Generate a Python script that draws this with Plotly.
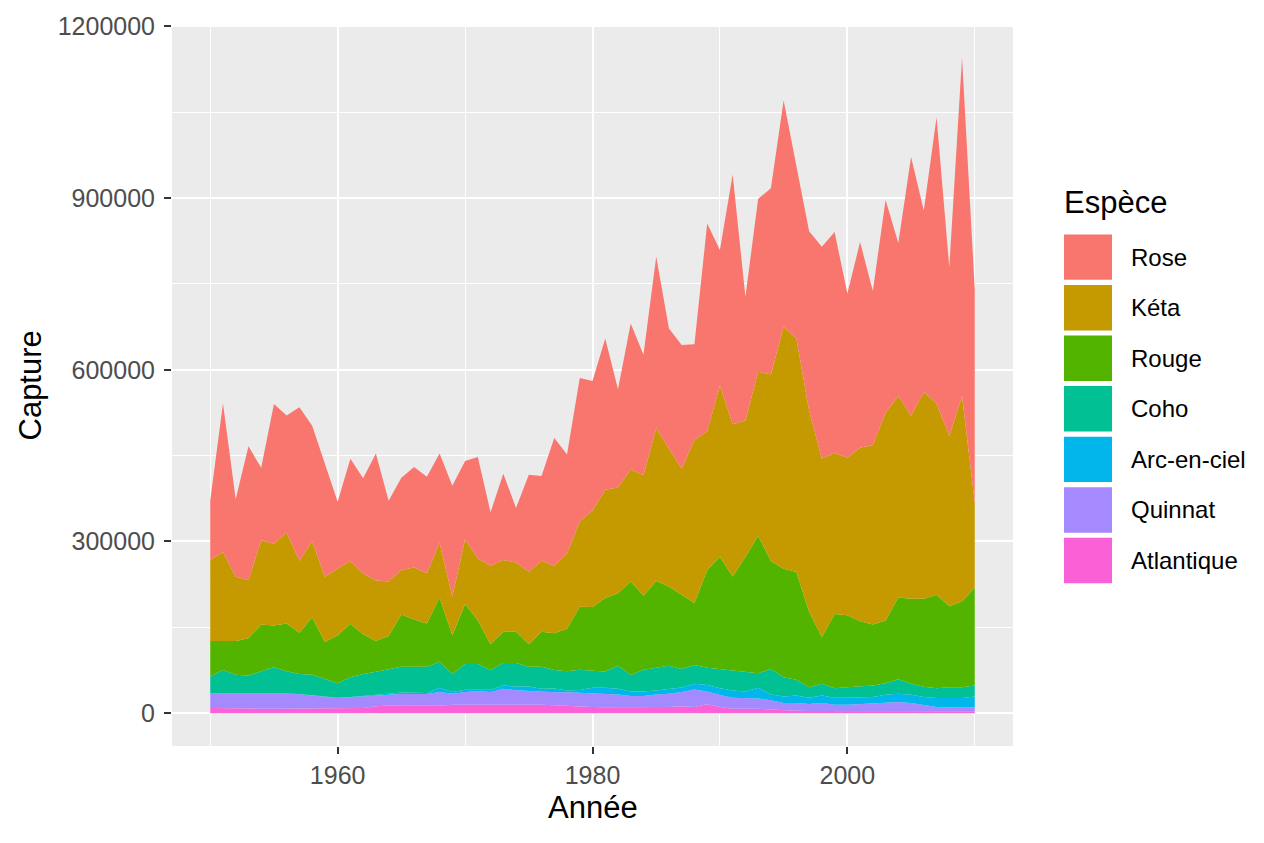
import plotly.graph_objs as go

annees = list(range(1950, 2011))

# captures par espece (bas de pile en premier)
atlantique = [9000, 8500, 8000, 8000, 8000, 8000, 8000, 8000, 8000, 8000,
              8000, 8000, 9000, 12000, 13500, 13000, 13000, 13000, 13000, 15000,
              15000, 15000, 15000, 15500, 15500, 15000, 15000, 14000, 13000, 11000,
              11000, 10500, 10500, 10000, 10500, 11000, 11000, 12000, 11000, 15600,
              11000, 8000, 8000, 8000, 6300, 5000, 4500, 4000, 4000, 4000,
              4000, 4000, 4000, 4000, 4000, 4000, 3500, 3500, 3500, 3500, 3500]
quinnat = [25000, 25500, 26000, 26000, 26500, 27000, 26000, 25000, 23100, 21400,
           18500, 20000, 20400, 19100, 19500, 20500, 20500, 20500, 23900, 19000,
           22000, 23600, 22000, 27200, 24500, 24000, 22000, 22500, 23500, 24700,
           24700, 23500, 22400, 20000, 19500, 21900, 23000, 25000, 30500, 22400,
           20800, 19100, 18500, 17900, 16200, 12800, 13300, 12100, 13800, 11000,
           11000, 12100, 13800, 15600, 15600, 13800, 11500, 7500, 6300, 6300, 6300]
arc_en_ciel = [500, 500, 500, 500, 500, 500, 500, 500, 500, 500,
               500, 500, 500, 700, 1000, 2800, 2800, 2000, 7500, 2900,
               4000, 2900, 4000, 5700, 6700, 7700, 5600, 6500, 3200, 4800,
               8700, 10400, 9700, 8000, 8000, 6800, 8600, 8000, 9800, 11500,
               12000, 12600, 11500, 18500, 10400, 11600, 13300, 11000, 13300, 12100,
               12100, 11000, 10400, 12700, 14400, 14500, 13200, 15500, 16700, 16700, 19600]
coho = [29500, 41000, 32900, 31200, 38200, 44600, 38700, 35100, 35800, 30100,
        25400, 34300, 38700, 40800, 43000, 45000, 45000, 45800, 45500, 31700,
        44900, 44400, 34500, 39300, 41000, 34600, 38700, 32500, 33500, 35500,
        30000, 28600, 40400, 28900, 38000, 40400, 40400, 32300, 32900, 30000,
        33500, 35800, 35200, 25600, 44400, 33400, 27200, 18400, 20200, 16700,
        18400, 19600, 20200, 20100, 25400, 19000, 17900, 17300, 19000, 19000, 19000]
rouge = [62200, 50700, 58800, 65200, 81900, 73300, 83600, 72000, 100300, 64500,
         83600, 93400, 69200, 53600, 58000, 91100, 82400, 75500, 112400, 67400,
         104800, 76100, 45000, 54600, 54600, 39200, 61000, 64000, 74300, 110200,
         111100, 128100, 126700, 163100, 129200, 151000, 138300, 129700, 108300, 170700,
         195900, 163200, 199500, 240200, 188600, 189500, 188500, 131800, 81800, 129600,
         125600, 114100, 106700, 109500, 142900, 148700, 153900, 163200, 141200, 149800, 171200]
keta = [141300, 155600, 112400, 102000, 146900, 142800, 158400, 125700, 132600, 114100,
        117000, 109600, 106500, 105500, 95000, 77800, 91000, 87500, 95700, 68000,
        113100, 108300, 137100, 125200, 121100, 126800, 124000, 118100, 131500, 148600,
        168400, 189100, 184500, 195900, 210300, 266900, 240900, 220100, 285300, 242100,
        299500, 265900, 238700, 286400, 325900, 422700, 407800, 351100, 311500, 281400,
        275500, 302900, 313300, 363100, 352000, 319600, 361100, 333700, 297400, 359000, 148600]
rose = [104200, 259400, 135400, 233400, 126800, 243800, 204800, 268000, 201700, 198900,
        116500, 178600, 166000, 221900, 141200, 161300, 175300, 169000, 155600, 193200,
        136600, 177500, 93400, 150900, 95100, 169400, 148100, 223100, 172800, 250800,
        226500, 264600, 171800, 254800, 210500, 299600, 209800, 216100, 166600, 363000,
        236500, 436300, 216100, 302000, 325200, 395500, 303400, 313600, 370200, 385900,
        286400, 359300, 269300, 371600, 267300, 452000, 317100, 500300, 295200, 590700, 371600]

especes = ['Atlantique', 'Quinnat', 'Arc-en-ciel', 'Coho', 'Rouge', 'Kéta', 'Rose']
series = [atlantique, quinnat, arc_en_ciel, coho, rouge, keta, rose]
couleurs = ['#FB61D7', '#A58AFF', '#00B6EB', '#00C094', '#53B400', '#C49A00', '#F8766D']

data = []
for nom, vals, coul in zip(especes, series, couleurs):
    data.append(go.Scatter(x=annees, y=vals, name=nom, mode='lines',
                           stackgroup='un', line=dict(width=0, color=coul),
                           fillcolor=coul, showlegend=False))

# marges du panneau en pixels
W, H = 1264, 843
L, R, T, B = 172, 251, 16, 97
pw, ph = W - L - R, H - T - B

total = [sum(v) for v in zip(*series)]
pad = 0.05 * max(total)
xpad = 0.05 * (annees[-1] - annees[0])

def px_x(p):
    return (p - L) / pw

def px_y(p):
    return (H - B - p) / ph

# legende faite a la main (cles carrees comme ggplot)
shapes = []
annotations = [dict(text='Espèce', x=px_x(1062), y=px_y(196), xref='paper', yref='paper',
                    xanchor='left', yanchor='middle', showarrow=False,
                    font=dict(size=31, color='black')),
               dict(text='Année', x=0.5, y=px_y(808), xref='paper', yref='paper',
                    xanchor='center', yanchor='middle', showarrow=False,
                    font=dict(size=31, color='black')),
               dict(text='Capture', x=px_x(30), y=0.5, xref='paper', yref='paper',
                    xanchor='center', yanchor='middle', showarrow=False, textangle=-90,
                    font=dict(size=31, color='black'))]
for i, (nom, coul) in enumerate(zip(especes[::-1], couleurs[::-1])):
    y0 = 228 + 51.2 * i
    shapes.append(dict(type='rect', xref='paper', yref='paper',
                       x0=px_x(1064), x1=px_x(1112), y0=px_y(y0), y1=px_y(y0 + 46),
                       fillcolor=coul, line=dict(width=0)))
    annotations.append(dict(text=nom, x=px_x(1129), y=px_y(y0 + 23), xref='paper', yref='paper',
                            xanchor='left', yanchor='middle', showarrow=False,
                            font=dict(size=24, color='black')))

layout = go.Layout(width=W, height=H, autosize=False,
                   margin=dict(l=L, r=R, t=T, b=B),
                   paper_bgcolor='white', plot_bgcolor='#EBEBEB',
                   font=dict(family='Liberation Sans, Arial, sans-serif'),
                   xaxis=dict(range=[annees[0] - xpad, annees[-1] + xpad],
                              tickvals=[1960, 1980, 2000], showgrid=True,
                              gridcolor='white', gridwidth=2.2, zeroline=False,
                              minor=dict(tickvals=[1950, 1970, 1990, 2010], showgrid=True,
                                         gridcolor='white', gridwidth=1.1, ticks=''),
                              ticks='outside', ticklen=7, tickwidth=2, tickcolor='#333333',
                              tickfont=dict(size=25, color='#4D4D4D'), showline=False),
                   yaxis=dict(range=[-pad, max(total) + pad],
                              tickvals=[0, 300000, 600000, 900000, 1200000], tickformat='d',
                              showgrid=True, gridcolor='white', gridwidth=2.2, zeroline=False,
                              minor=dict(tickvals=[150000, 450000, 750000, 1050000], showgrid=True,
                                         gridcolor='white', gridwidth=1.1, ticks=''),
                              ticks='outside', ticklen=7, tickwidth=2, tickcolor='#333333',
                              ticklabelstandoff=4,
                              tickfont=dict(size=25, color='#4D4D4D'), showline=False),
                   shapes=shapes, annotations=annotations,
                   hovermode='closest')

fig = go.Figure(data=data, layout=layout)
# figure collee en haut a gauche de la fenetre
js = ("document.body.style.margin='0px';document.body.style.overflow='hidden';"
      "var d=document.getElementById('{plot_id}');"
      "d.style.position='fixed';d.style.top='0px';d.style.left='0px';")
fig.write_html("out.html", config={'responsive': False, 'displayModeBar': False},
               post_script=js)
